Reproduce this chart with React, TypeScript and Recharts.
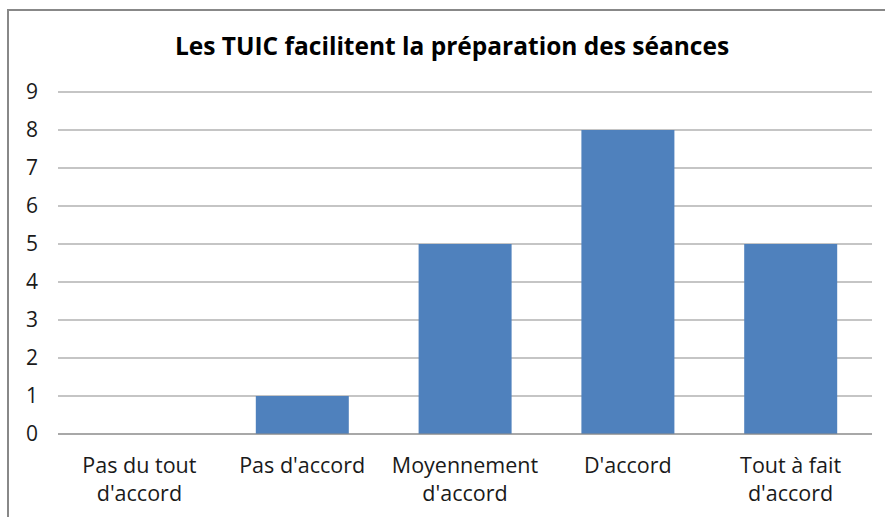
import { BarChart, Bar, XAxis, YAxis, CartesianGrid } from "recharts";

const categories = [
  "Pas du tout d'accord",
  "Pas d'accord",
  "Moyennement d'accord",
  "D'accord",
  "Tout à fait d'accord",
];
const counts = [0, 1, 5, 8, 5];
const tickLines: Record<string, string[]> = {
  "Pas du tout d'accord": ["Pas du tout", "d'accord"],
  "Pas d'accord": ["Pas d'accord"],
  "Moyennement d'accord": ["Moyennement", "d'accord"],
  "D'accord": ["D'accord"],
  "Tout à fait d'accord": ["Tout à fait", "d'accord"],
};
const yTicks = [0, 1, 2, 3, 4, 5, 6, 7, 8, 9];
const title = "Les TUIC facilitent la préparation des séances";

const data = categories.map((c, i) => ({ label: c, value: counts[i] }));

const font = "'Open Sans', Lato, sans-serif";

function CategoryTick(props: any) {
  const { x, y, payload } = props;
  const lines = tickLines[payload.value] ?? [payload.value];
  return (
    <text x={x} y={y} textAnchor="middle" fill="#1a1a1a" fontSize={21.5} fontFamily={font}>
      {lines.map((l, i) => (
        <tspan key={i} x={x} dy={i === 0 ? 31 : 28}>
          {l}
        </tspan>
      ))}
    </text>
  );
}

export default function App() {
  return (
    <div
      style={{
        position: "absolute",
        left: 0,
        top: 0,
        width: 885,
        height: 517,
        overflow: "hidden",
        background: "white",
        fontFamily: font,
      }}
    >
      <div
        style={{
          position: "absolute",
          left: 7,
          top: 9,
          width: 900,
          height: 540,
          border: "2px solid #888888",
          boxSizing: "border-box",
        }}
      />
      <div
        style={{
          position: "absolute",
          left: 0,
          top: 29,
          width: 904,
          textAlign: "center",
          fontSize: 24.5,
          fontWeight: 700,
          color: "#000",
        }}
      >
        {title}
      </div>
      <div style={{ position: "absolute", left: 0, top: 0 }}>
        <BarChart
          width={885}
          height={517}
          data={data}
          margin={{ top: 92, right: 13, left: 8, bottom: 0 }}
          barCategoryGap="21.5%"
        >
          <CartesianGrid vertical={false} stroke="#8c8c8c" strokeWidth={1.2} />
          <XAxis
            dataKey="label"
            height={83}
            axisLine={{ stroke: "#8c8c8c", strokeWidth: 1.2 }}
            tickLine={false}
            interval={0}
            tick={<CategoryTick />}
          />
          <YAxis
            width={50}
            domain={[0, 9]}
            ticks={yTicks}
            axisLine={false}
            tickLine={false}
            tickMargin={14}
            tick={{ fontSize: 21, fill: "#1a1a1a", fontFamily: font }}
          />
          <Bar dataKey="value" fill="#4f81bd" isAnimationActive={false} />
        </BarChart>
      </div>
    </div>
  );
}
